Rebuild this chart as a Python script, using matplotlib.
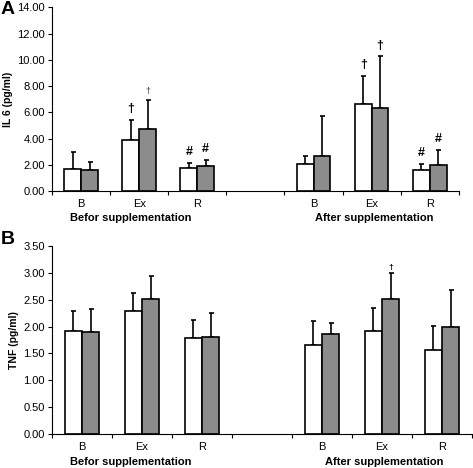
import numpy as np
import matplotlib.pyplot as plt

plt.rcParams['font.family'] = ['Liberation Sans', 'DejaVu Sans']

# slots: B, Ex, R (before), empty gap, B, Ex, R (after)
categories = ["B", "Ex", "R", "", "B", "Ex", "R"]
groups = ["Befor supplementation", "After supplementation"]

# IL 6 (pg/ml): white = first series, gray = second series
il6_white = [1.70, 3.85, 1.74, np.nan, 2.08, 6.62, 1.62]
il6_white_err = [2.97, 5.41, 2.15, np.nan, 2.64, 8.79, 2.08]
il6_gray = [1.60, 4.69, 1.92, np.nan, 2.64, 6.31, 1.97]
il6_gray_err = [2.20, 6.92, 2.38, np.nan, 5.72, 10.26, 3.15]

# TNF (pg/ml)
tnf_white = [1.91, 2.30, 1.79, np.nan, 1.66, 1.91, 1.57]
tnf_white_err = [2.29, 2.62, 2.13, np.nan, 2.11, 2.35, 2.01]
tnf_gray = [1.89, 2.51, 1.81, np.nan, 1.86, 2.52, 2.00]
tnf_gray_err = [2.33, 2.95, 2.26, np.nan, 2.06, 3.00, 2.69]

# significance marks: (slot, series 0=white/1=gray, symbol, fontsize)
il6_marks = [(1, 0, "\u2020", 9), (1, 1, "\u2020", 6.5), (2, 0, "#", 9), (2, 1, "#", 9),
             (5, 0, "\u2020", 9), (5, 1, "\u2020", 9), (6, 0, "#", 9), (6, 1, "#", 9)]
tnf_marks = [(5, 1, "\u2020", 6)]

WHITE = "white"
GRAY = "#8c8c8c"
BW = 0.29


def draw_panel(ax, white, white_err, gray, gray_err, ymax, ystep, ylabel, marks,
               mark_off, letter, letter_y, group_x):
    x = np.arange(len(categories))
    valid = ~np.isnan(np.array(white))
    xv = x[valid]
    w = np.array(white)[valid]
    g = np.array(gray)[valid]
    we = np.array(white_err)[valid]
    ge = np.array(gray_err)[valid]

    ax.bar(xv - BW / 2, w, BW, color=WHITE, edgecolor="black", linewidth=1.2, zorder=2)
    ax.bar(xv + BW / 2, g, BW, color=GRAY, edgecolor="black", linewidth=1.2, zorder=2)
    for xs, m, e in ((xv - BW / 2, w, we), (xv + BW / 2, g, ge)):
        ax.errorbar(xs, m, yerr=[np.zeros_like(m), e - m], fmt="none", ecolor="black",
                    elinewidth=1.2, capsize=1.8, capthick=1.2, zorder=1)

    tops = {0: np.array(white_err), 1: np.array(gray_err)}
    for slot, s, sym, fs in marks:
        xm = slot - BW / 2 if s == 0 else slot + BW / 2
        ax.text(xm, tops[s][slot] + mark_off, sym, ha="center", va="bottom",
                fontsize=fs, fontweight="bold",
                color="black" if fs > 7 or letter == "B" else "#555555")

    yt = np.arange(0, ymax + ystep / 2, ystep)
    ax.set_xlim(-0.5, len(categories) - 0.5)
    ax.set_ylim(0, ymax)
    ax.set_yticks(yt)
    ax.set_yticklabels([f"{v:.2f}" for v in yt], fontsize=8)
    ax.set_xticks(np.arange(-0.5, len(categories), 1.0))
    ax.set_xticklabels([])
    ax.set_xticks(x, categories, minor=True, fontsize=8)
    ax.tick_params(axis="x", which="minor", length=0, pad=6)
    ax.tick_params(axis="x", which="major", length=3, direction="out")
    ax.tick_params(axis="y", length=3, direction="out", pad=2)
    for side in ("top", "right"):
        ax.spines[side].set_visible(False)
    ax.set_ylabel(ylabel, fontsize=7.5, fontweight="bold", labelpad=3)
    for gx, gname in zip(group_x, groups):
        ax.text(gx, -0.15, gname, transform=ax.get_xaxis_transform(), ha="center",
                va="center", fontsize=8, fontweight="bold")
    ax.figure.text(0.001, letter_y, letter, ha="left", va="center",
                   fontsize=14, fontweight="bold")


fig = plt.figure(figsize=(4.73, 4.68), dpi=100)
ax1 = fig.add_axes([0.110, 0.592, 0.860, 0.392])
ax2 = fig.add_axes([0.110, 0.073, 0.888, 0.401])

draw_panel(ax1, il6_white, il6_white_err, il6_gray, il6_gray_err, 14, 2,
           "IL 6 (pg/ml)", il6_marks, 0.35, "A", 1 - 10 / 468, [0.85, 5.05])
draw_panel(ax2, tnf_white, tnf_white_err, tnf_gray, tnf_gray_err, 3.5, 0.5,
           "TNF (pg/ml)", tnf_marks, 0.03, "B", 1 - 240 / 468, [0.82, 5.03])

fig.savefig("out.png", dpi=100)
